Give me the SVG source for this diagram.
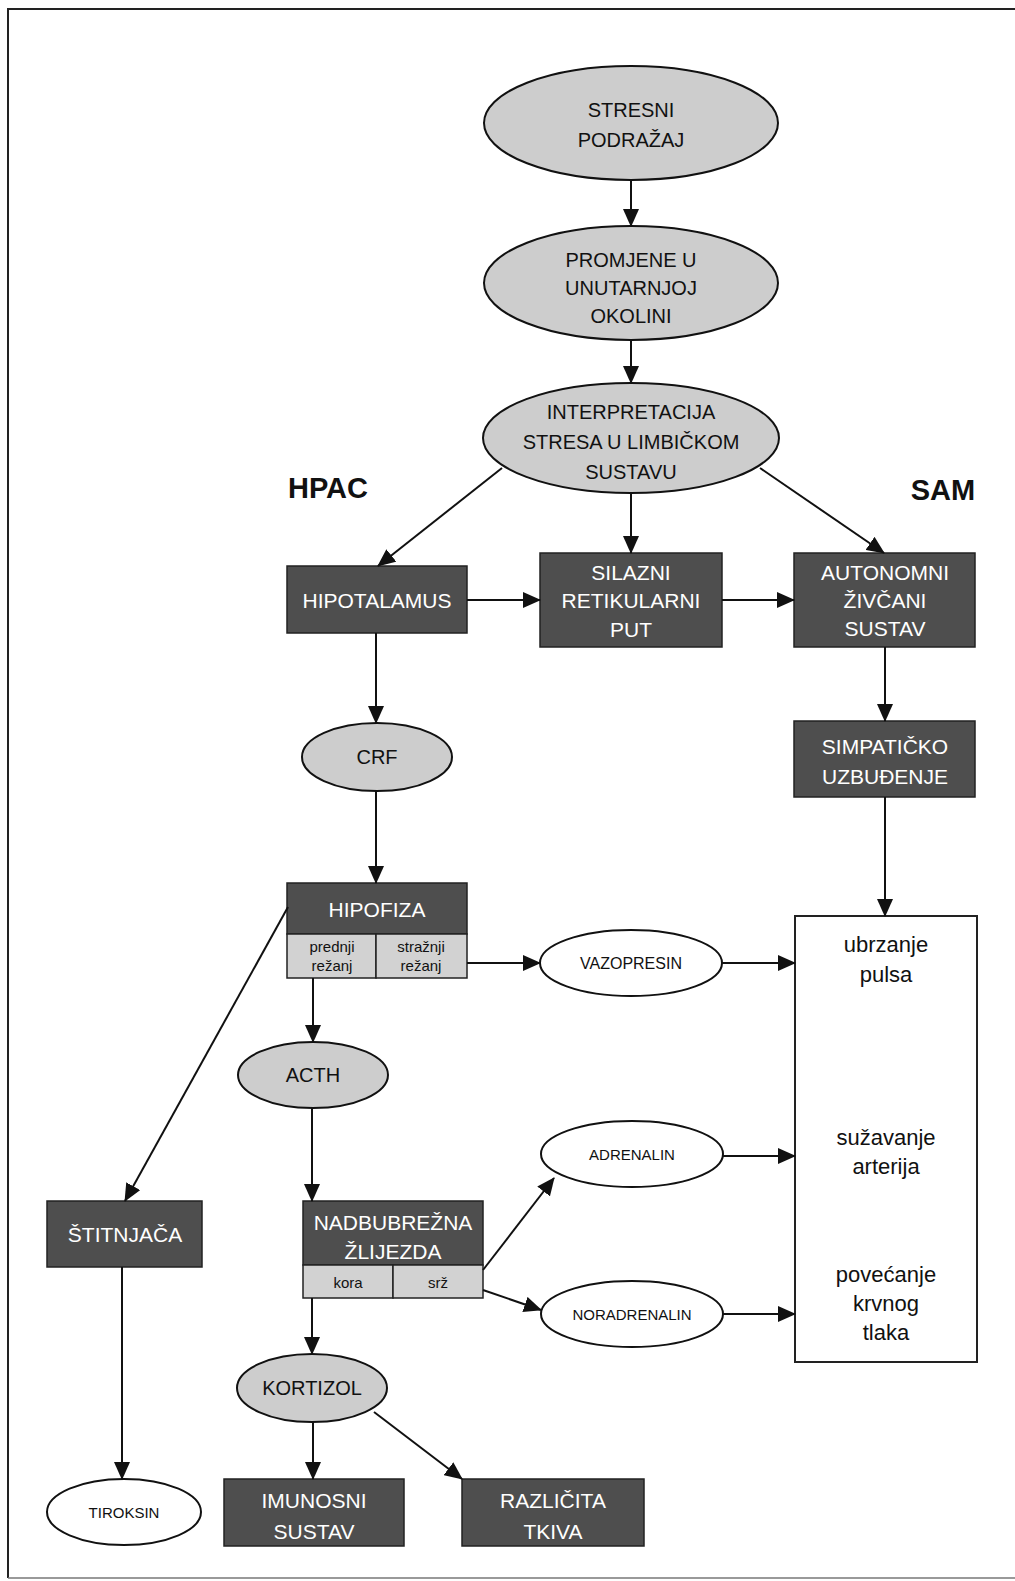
<svg xmlns="http://www.w3.org/2000/svg" width="1015" height="1581" viewBox="0 0 1015 1581">
<defs>
<style>
text{font-family:"Liberation Sans","DejaVu Sans",sans-serif;text-anchor:middle}
.lt{fill:#cdcdcd;stroke:#111;stroke-width:2}
.wh{fill:#fff;stroke:#111;stroke-width:2}
.dk{fill:#4e4e4e;stroke:#222;stroke-width:1.5}
.sub{fill:#d2d2d2;stroke:#222;stroke-width:1.5}
.tb{font-size:20px;fill:#111}
.tw{font-size:21px;fill:#fff}
.ts{font-size:16px;fill:#111}
.tl{font-size:15px;fill:#111}
.tr{font-size:22px;fill:#111}
.hd{font-size:29px;font-weight:bold;fill:#111}
.c line{stroke:#111;stroke-width:2;marker-end:url(#ah)}
.frame{stroke:#222;stroke-width:2;fill:none}
</style>
<marker id="ah" markerUnits="userSpaceOnUse" markerWidth="18" markerHeight="16" refX="17" refY="8" orient="auto">
<path d="M0,0 L18,8 L0,16 Z" fill="#111"/>
</marker>
</defs>
<rect width="1015" height="1581" fill="#fff"/>
<path class="frame" d="M1015,9 L8,9 L8,1578"/>
<path d="M8,1578 L1015,1578" stroke="#777" stroke-width="1.5" fill="none"/>

<text class="hd" x="328" y="498">HPAC</text>
<text class="hd" x="943" y="500">SAM</text>

<g id="stresni">
<ellipse class="lt" cx="631" cy="123" rx="147" ry="57"/>
<text class="tb" x="631" y="117">STRESNI</text>
<text class="tb" x="631" y="147">PODRAŽAJ</text>
</g>
<g id="promjene">
<ellipse class="lt" cx="631" cy="283" rx="147" ry="57"/>
<text class="tb" x="631" y="267">PROMJENE U</text>
<text class="tb" x="631" y="295">UNUTARNJOJ</text>
<text class="tb" x="631" y="323">OKOLINI</text>
</g>
<g id="interpretacija">
<ellipse class="lt" cx="631" cy="438" rx="148" ry="55"/>
<text class="tb" x="631" y="419">INTERPRETACIJA</text>
<text class="tb" x="631" y="449">STRESA U LIMBIČKOM</text>
<text class="tb" x="631" y="479">SUSTAVU</text>
</g>
<g id="hipotalamus">
<rect class="dk" x="287" y="566" width="180" height="67"/>
<text class="tw" x="377" y="608">HIPOTALAMUS</text>
</g>
<g id="silazni">
<rect class="dk" x="540" y="553" width="182" height="94"/>
<text class="tw" x="631" y="580">SILAZNI</text>
<text class="tw" x="631" y="608">RETIKULARNI</text>
<text class="tw" x="631" y="637">PUT</text>
</g>
<g id="autonomni">
<rect class="dk" x="794" y="553" width="181" height="94"/>
<text class="tw" x="885" y="580">AUTONOMNI</text>
<text class="tw" x="885" y="608">ŽIVČANI</text>
<text class="tw" x="885" y="636">SUSTAV</text>
</g>
<g id="simpaticko">
<rect class="dk" x="794" y="721" width="181" height="76"/>
<text class="tw" x="885" y="754">SIMPATIČKO</text>
<text class="tw" x="885" y="784">UZBUĐENJE</text>
</g>
<g id="crf">
<ellipse class="lt" cx="377" cy="757" rx="75" ry="34"/>
<text class="tb" x="377" y="764">CRF</text>
</g>
<g id="hipofiza">
<rect class="dk" x="287" y="883" width="180" height="51"/>
<rect class="sub" x="287" y="934" width="89" height="44"/>
<rect class="sub" x="376" y="934" width="91" height="44"/>
<text class="tw" x="377" y="917">HIPOFIZA</text>
<text class="tl" x="332" y="952">prednji</text>
<text class="tl" x="332" y="971">režanj</text>
<text class="tl" x="421" y="952">stražnji</text>
<text class="tl" x="421" y="971">režanj</text>
</g>
<g id="vazopresin">
<ellipse class="wh" cx="631" cy="963" rx="91" ry="33"/>
<text class="ts" x="631" y="969">VAZOPRESIN</text>
</g>
<g id="ucinci">
<rect x="795" y="916" width="182" height="446" fill="#fff" stroke="#222" stroke-width="2"/>
<text class="tr" x="886" y="952">ubrzanje</text>
<text class="tr" x="886" y="982">pulsa</text>
<text class="tr" x="886" y="1145">sužavanje</text>
<text class="tr" x="886" y="1174">arterija</text>
<text class="tr" x="886" y="1282">povećanje</text>
<text class="tr" x="886" y="1311">krvnog</text>
<text class="tr" x="886" y="1340">tlaka</text>
</g>
<g id="acth">
<ellipse class="lt" cx="313" cy="1075" rx="75" ry="33"/>
<text class="tb" x="313" y="1082">ACTH</text>
</g>
<g id="stitnjaca">
<rect class="dk" x="47" y="1201" width="155" height="66"/>
<text class="tw" x="125" y="1242">ŠTITNJAČA</text>
</g>
<g id="nadbubrezna">
<rect class="dk" x="303" y="1201" width="180" height="64"/>
<rect class="sub" x="303" y="1265" width="90" height="33"/>
<rect class="sub" x="393" y="1265" width="90" height="33"/>
<text class="tw" x="393" y="1230">NADBUBREŽNA</text>
<text class="tw" x="393" y="1259">ŽLIJEZDA</text>
<text class="tl" x="348" y="1288">kora</text>
<text class="tl" x="438" y="1288">srž</text>
</g>
<g id="adrenalin">
<ellipse class="wh" cx="632" cy="1154" rx="91" ry="33"/>
<text class="tl" x="632" y="1160">ADRENALIN</text>
</g>
<g id="noradrenalin">
<ellipse class="wh" cx="632" cy="1314" rx="91" ry="33"/>
<text class="tl" x="632" y="1320">NORADRENALIN</text>
</g>
<g id="kortizol">
<ellipse class="lt" cx="312" cy="1388" rx="75" ry="34"/>
<text class="tb" x="312" y="1395">KORTIZOL</text>
</g>
<g id="tiroksin">
<ellipse class="wh" cx="124" cy="1512" rx="77" ry="33"/>
<text class="tl" x="124" y="1518">TIROKSIN</text>
</g>
<g id="imunosni">
<rect class="dk" x="224" y="1479" width="180" height="67"/>
<text class="tw" x="314" y="1508">IMUNOSNI</text>
<text class="tw" x="314" y="1539">SUSTAV</text>
</g>
<g id="razlicita">
<rect class="dk" x="462" y="1479" width="182" height="67"/>
<text class="tw" x="553" y="1508">RAZLIČITA</text>
<text class="tw" x="553" y="1539">TKIVA</text>
</g>

<g class="c" id="connectors">
<line x1="631" y1="180" x2="631" y2="226"/>
<line x1="631" y1="340" x2="631" y2="383"/>
<line x1="502" y1="468" x2="378" y2="566"/>
<line x1="631" y1="493" x2="631" y2="553"/>
<line x1="760" y1="468" x2="884" y2="553"/>
<line x1="467" y1="600" x2="540" y2="600"/>
<line x1="722" y1="600" x2="794" y2="600"/>
<line x1="376" y1="633" x2="376" y2="723"/>
<line x1="885" y1="647" x2="885" y2="721"/>
<line x1="885" y1="797" x2="885" y2="916"/>
<line x1="376" y1="791" x2="376" y2="883"/>
<line x1="467" y1="963" x2="540" y2="963"/>
<line x1="722" y1="963" x2="795" y2="963"/>
<line x1="288" y1="907" x2="125" y2="1201"/>
<line x1="313" y1="978" x2="313" y2="1042"/>
<line x1="312" y1="1108" x2="312" y2="1201"/>
<line x1="483" y1="1270" x2="554" y2="1178"/>
<line x1="483" y1="1290" x2="541" y2="1310"/>
<line x1="723" y1="1156" x2="795" y2="1156"/>
<line x1="723" y1="1314" x2="795" y2="1314"/>
<line x1="312" y1="1298" x2="312" y2="1354"/>
<line x1="122" y1="1267" x2="122" y2="1479"/>
<line x1="313" y1="1422" x2="313" y2="1479"/>
<line x1="374" y1="1412" x2="462" y2="1479"/>
</g>
</svg>
